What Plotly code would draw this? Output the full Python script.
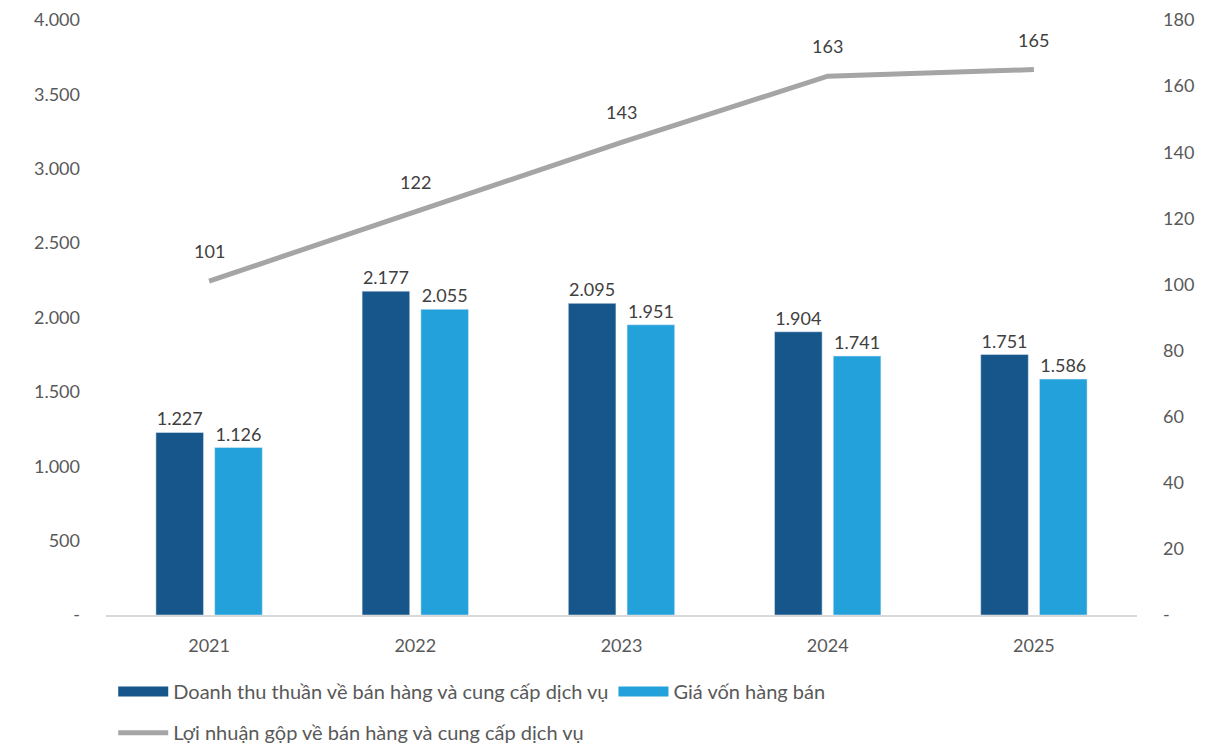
import plotly.graph_objects as go

years = ["2021", "2022", "2023", "2024", "2025"]
revenue = [1227, 2177, 2095, 1904, 1751]
cogs = [1126, 2055, 1951, 1741, 1586]
gross_profit = [101, 122, 143, 163, 165]

left_ticks = [0, 500, 1000, 1500, 2000, 2500, 3000, 3500, 4000]
left_ticktext = ["-", "500", "1.000", "1.500", "2.000", "2.500", "3.000", "3.500", "4.000"]
right_ticks = [0, 20, 40, 60, 80, 100, 120, 140, 160, 180]
right_ticktext = ["-", "20", "40", "60", "80", "100", "120", "140", "160", "180"]

name_rev = "Doanh thu thuần về bán hàng và cung cấp dịch vụ"
name_cogs = "Giá vốn hàng bán"
name_gp = "Lợi nhuận gộp về bán hàng và cung cấp dịch vụ"

FONT = "Lato"
TXT = "#404040"
AX = "#595959"
C_REV = "#16568A"
C_COGS = "#22A1DA"
C_GP = "#A5A5A5"

fig = go.Figure()
fig.add_trace(go.Bar(x=years, y=revenue, name=name_rev, marker_color=C_REV,
                     texttemplate="%{y:,d}", textposition="outside", showlegend=False,
                     textfont=dict(size=18, color=TXT, family=FONT), cliponaxis=False))
fig.add_trace(go.Bar(x=years, y=cogs, name=name_cogs, marker_color=C_COGS,
                     texttemplate="%{y:,d}", textposition="outside", showlegend=False,
                     textfont=dict(size=18, color=TXT, family=FONT), cliponaxis=False))
fig.add_trace(go.Scatter(x=years, y=gross_profit, name=name_gp, mode="lines",
                         line=dict(color=C_GP, width=5), yaxis="y2", legend="legend2"))

# legend-only entries drawn as thick lines to mimic rectangular swatches
fig.add_trace(go.Scatter(x=[None], y=[None], name=name_rev, mode="lines",
                         line=dict(color=C_REV, width=14), legend="legend"))
fig.add_trace(go.Scatter(x=[None], y=[None], name=name_cogs, mode="lines",
                         line=dict(color=C_COGS, width=14), legend="legend"))

for i, v in enumerate(gross_profit):
    fig.add_annotation(x=i, y=v, xref="x", yref="y2", text=str(v), showarrow=False,
                       yshift=30, font=dict(size=18, color=TXT, family=FONT))

fig.update_layout(
    width=1221, height=739,
    margin=dict(l=98, r=92, t=12, b=132, autoexpand=False),
    paper_bgcolor="white", plot_bgcolor="white",
    separators=",.",
    font=dict(family=FONT, size=18, color=AX),
    barmode="group", bargap=0.43, bargroupgap=0.19,
    xaxis=dict(type="category", showline=True, linecolor="#D9D9D9", linewidth=1.5, ticks="",
               tickfont=dict(size=18, color=AX), ticklabelstandoff=14),
    yaxis=dict(range=[0, 4000], tickvals=left_ticks, ticktext=left_ticktext,
               showgrid=False, zeroline=False, showline=False,
               tickfont=dict(size=18, color=AX), ticklabelstandoff=25),
    yaxis2=dict(range=[0, 180], tickvals=right_ticks, ticktext=right_ticktext,
                overlaying="y", side="right", showgrid=False, zeroline=False,
                showline=False, tickfont=dict(size=18, color=AX), ticklabelstandoff=25),
    legend=dict(orientation="h", x=0.007, xanchor="left", y=-0.096, yanchor="top",
                font=dict(size=20, color=AX, family=FONT),
                traceorder="normal", itemwidth=50, tracegroupgap=0),
    legend2=dict(orientation="h", x=0.007, xanchor="left", y=-0.165, yanchor="top",
                 font=dict(size=20, color=AX, family=FONT),
                 traceorder="normal", itemwidth=50),
)

fig.write_html("out.html")
